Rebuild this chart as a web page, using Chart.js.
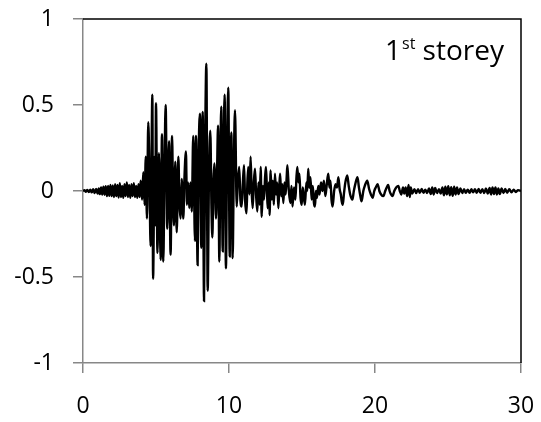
<!DOCTYPE html>
<html>
<head>
<meta charset="utf-8">
<script src="https://cdn.jsdelivr.net/npm/chart.js@4.4.1/dist/chart.umd.min.js"></script>
<style>
  html, body { margin: 0; padding: 0; background: #fff; }
  #wrap { width: 541px; height: 422px; }
</style>
</head>
<body>
<div id="wrap"><canvas id="chart" width="541" height="422"></canvas></div>
<script>
// time (s) and response, peak by peak
const times = [
  0.0, 0.1, 0.2, 0.3, 0.4, 0.5, 0.6, 0.7, 0.8, 0.9, 1.0, 1.08, 1.16, 1.24, 1.32, 1.4, 1.48, 1.56, 1.64, 1.72,
  1.8, 1.88, 1.96, 2.04, 2.12, 2.2, 2.28, 2.36, 2.44, 2.52, 2.6, 2.68, 2.76, 2.84, 2.92, 3.0, 3.08, 3.16, 3.24, 3.32,
  3.4, 3.48, 3.56, 3.64, 3.72, 3.8, 3.88, 3.95, 4.05, 4.13, 4.22, 4.3, 4.38, 4.47, 4.55, 4.63, 4.75, 4.8, 4.9, 4.95,
  5.0, 5.1, 5.2, 5.32, 5.41, 5.5, 5.58, 5.66, 5.77, 5.89, 6.0, 6.1, 6.17, 6.23, 6.32, 6.42, 6.53, 6.61, 6.69, 6.76,
  6.87, 6.95, 7.05, 7.12, 7.2, 7.28, 7.36, 7.45, 7.55, 7.67, 7.74, 7.85, 7.92, 8.01, 8.1, 8.2, 8.29, 8.37, 8.45, 8.54,
  8.63, 8.72, 8.8, 8.86, 8.93, 9.0, 9.11, 9.18, 9.25, 9.34, 9.4, 9.47, 9.57, 9.63, 9.7, 9.79, 9.87, 9.95, 10.05, 10.1,
  10.16, 10.25, 10.33, 10.41, 10.53, 10.6, 10.7, 10.78, 10.87, 10.95, 11.03, 11.1, 11.2, 11.26, 11.32, 11.4, 11.48, 11.55, 11.62, 11.7,
  11.78, 11.86, 11.94, 12.02, 12.1, 12.17, 12.24, 12.32, 12.4, 12.47, 12.53, 12.6, 12.65, 12.72, 12.78, 12.85, 12.93, 13.0, 13.07, 13.15,
  13.22, 13.3, 13.38, 13.45, 13.5, 13.58, 13.65, 13.72, 13.8, 13.88, 13.95, 14.0, 14.1, 14.2, 14.28, 14.35, 14.45, 14.55, 14.62, 14.68,
  14.75, 14.82, 14.9, 14.98, 15.05, 15.12, 15.2, 15.3, 15.36, 15.43, 15.5, 15.58, 15.66, 15.74, 15.82, 15.89, 15.95, 16.02, 16.12, 16.2,
  16.3, 16.4, 16.5, 16.6, 16.7, 16.8, 16.88, 16.95, 17.02, 17.1, 17.2, 17.3, 17.4, 17.49, 17.58, 17.66, 17.72, 17.79, 17.88, 17.97,
  18.1, 18.2, 18.3, 18.45, 18.55, 18.65, 18.8, 18.9, 19.0, 19.08, 19.2, 19.3, 19.47, 19.6, 19.72, 19.84, 19.95, 20.05, 20.18, 20.3,
  20.42, 20.57, 20.7, 20.8, 20.9, 21.0, 21.1, 21.2, 21.32, 21.45, 21.6, 21.7, 21.8, 21.92, 22.0, 22.1, 22.2, 22.3, 22.38, 22.45,
  22.55, 22.7, 22.82, 22.95, 23.07, 23.2, 23.32, 23.45, 23.57, 23.7, 23.82, 23.92, 24.02, 24.12, 24.25, 24.38, 24.5, 24.62, 24.72, 24.82,
  24.92, 25.02, 25.12, 25.22, 25.32, 25.42, 25.52, 25.62, 25.72, 25.85, 25.98, 26.1, 26.22, 26.35, 26.48, 26.6, 26.72, 26.85, 26.97, 27.1,
  27.22, 27.35, 27.48, 27.6, 27.72, 27.85, 27.95, 28.05, 28.15, 28.25, 28.35, 28.45, 28.55, 28.67, 28.8, 28.92, 29.05, 29.2, 29.35, 29.5,
  29.65, 29.8, 30.0
];
const response = [
  0, 0.004, -0.004, 0.006, -0.006, 0.008, -0.008, 0.01, -0.012, 0.012, -0.015, 0.015, -0.018, 0.02, -0.02, 0.025, -0.022, 0.028, -0.03, 0.03,
  -0.028, 0.035, -0.03, 0.032, -0.035, 0.04, -0.03, 0.035, -0.038, 0.045, -0.035, 0.03, -0.04, 0.04, -0.03, 0.05, -0.035, 0.035, -0.04, 0.04,
  -0.03, 0.045, -0.035, 0.03, -0.04, 0.04, -0.035, 0.06, -0.05, 0.11, -0.08, 0.2, -0.16, 0.40, 0.1, -0.32, 0.56, -0.51, 0.2, -0.2,
  0.51, -0.36, 0.22, -0.40, 0.33, -0.41, 0.1, 0.50, -0.22, 0.29, -0.37, 0.32, -0.05, -0.20, 0.17, -0.24, 0.20, -0.08, -0.16, 0.07,
  -0.16, 0.08, 0.23, -0.08, 0.05, -0.10, 0.05, -0.12, 0.32, -0.29, 0.32, -0.43, 0.2, 0.45, -0.33, 0.46, -0.64, 0.3, 0.74, -0.58,
  0.1, 0.35, -0.1, -0.27, 0.05, 0.16, -0.16, 0.1, 0.38, -0.41, 0.1, 0.49, -0.35, 0.2, 0.56, -0.45, 0.25, 0.60, -0.38, 0.1,
  0.34, -0.39, 0.15, 0.47, -0.09, 0.05, 0.14, -0.05, -0.09, 0.05, 0.15, -0.05, -0.13, 0.05, 0.14, -0.02, 0.20, 0.0, -0.10, 0.05,
  0.13, -0.03, -0.12, 0.05, -0.08, 0.14, -0.15, 0.03, -0.05, 0.08, 0.14, 0.0, -0.10, 0.05, -0.14, 0.12, -0.05, 0.06, -0.08, 0.10,
  -0.02, 0.05, -0.10, 0.03, 0.10, -0.03, 0.04, -0.07, 0.05, -0.02, 0.08, 0.15, 0.0, -0.07, 0.03, -0.09, 0.02, -0.05, 0.08, 0.14,
  0.05, 0.10, -0.04, -0.08, 0.02, -0.03, -0.08, 0.05, 0.0, 0.13, 0.02, 0.08, -0.05, 0.03, -0.07, -0.09, 0.0, -0.04, 0.03, -0.02,
  0.05, 0.0, 0.06, -0.03, 0.04, 0.10, 0.02, 0.06, -0.05, -0.09, 0.0, 0.04, 0.02, 0.08, 0.01, -0.02, -0.06, -0.08, -0.01, 0.05,
  0.09, 0.03, -0.02, -0.05, 0.0, 0.04, 0.08, 0.02, -0.03, -0.06, 0.0, 0.03, 0.06, 0.01, -0.02, -0.04, 0.0, 0.02, 0.04, 0.0,
  -0.02, -0.03, 0.0, 0.02, 0.035, 0.0, -0.02, -0.03, 0.0, 0.02, 0.03, 0.0, -0.02, 0.02, -0.015, 0.02, -0.03, 0.035, -0.035, 0.02,
  -0.015, 0.01, -0.012, 0.01, -0.01, 0.012, -0.01, 0.008, -0.012, 0.015, -0.018, 0.02, -0.02, 0.018, -0.012, 0.01, -0.015, 0.02, -0.025, 0.025,
  -0.02, 0.028, -0.025, 0.022, -0.028, 0.025, -0.02, 0.02, -0.018, 0.015, -0.012, 0.01, -0.01, 0.008, -0.01, 0.01, -0.008, 0.01, -0.01, 0.012,
  -0.01, 0.01, -0.012, 0.015, -0.015, 0.018, -0.02, 0.02, -0.018, 0.02, -0.02, 0.015, -0.018, 0.015, -0.012, 0.012, -0.01, 0.01, -0.008, 0.008,
  -0.006, 0.005, 0
];
const xTicks = [0, 10, 20, 30];
const yTicks = [-1, -0.5, 0, 0.5, 1];
const panelLabel = { main: '1', sup: 'st', rest: ' storey' };

const FONT = '"Open Sans", "Noto Sans", sans-serif';
const axisGrey = '#878787';

// black frame on top and right, text label in the corner
const framePlugin = {
  id: 'frame',
  afterDraw(chart) {
    const ctx = chart.ctx;
    const a = chart.chartArea;
    ctx.save();
    ctx.strokeStyle = '#000';
    ctx.lineWidth = 1.5;
    ctx.beginPath();
    ctx.moveTo(a.left, a.top);
    ctx.lineTo(a.right, a.top);
    ctx.lineTo(a.right, a.bottom);
    ctx.stroke();

    ctx.fillStyle = '#000';
    ctx.textBaseline = 'alphabetic';
    let x = 385, y = 60;
    ctx.font = '28px ' + FONT;
    ctx.fillText(panelLabel.main, x, y);
    x += ctx.measureText(panelLabel.main).width + 1;
    ctx.font = '16px ' + FONT;
    ctx.fillText(panelLabel.sup, x, y - 11);
    x += ctx.measureText(panelLabel.sup).width;
    ctx.font = '28px ' + FONT;
    ctx.fillText(panelLabel.rest, x, y);
    ctx.restore();
  }
};

const points = times.map((t, i) => ({ x: t, y: response[i] }));

new Chart(document.getElementById('chart'), {
  type: 'line',
  data: {
    datasets: [{
      data: points,
      borderColor: '#000',
      borderWidth: 2.4,
      pointRadius: 0,
      cubicInterpolationMode: 'monotone',
      fill: false
    }]
  },
  options: {
    responsive: false,
    animation: false,
    devicePixelRatio: 1,
    layout: { padding: { top: 19, right: 20, left: 0, bottom: 0 } },
    plugins: { legend: { display: false }, tooltip: { enabled: false } },
    scales: {
      x: {
        type: 'linear',
        min: 0, max: 30,
        afterBuildTicks: (axis) => { axis.ticks = xTicks.map(v => ({ value: v })); },
        // fixed size, and no extra room for the end labels
        afterFit: (axis) => { axis.height = 59; axis.paddingLeft = 0; axis.paddingRight = 0; },
        ticks: { color: '#000', font: { family: FONT, size: 23 }, padding: 20, maxRotation: 0 },
        grid: { drawOnChartArea: false, tickLength: 10, color: axisGrey, lineWidth: 1.5 },
        border: { color: axisGrey, width: 1.5 }
      },
      y: {
        min: -1, max: 1,
        afterBuildTicks: (axis) => { axis.ticks = yTicks.map(v => ({ value: v })); },
        afterFit: (axis) => { axis.width = 83; axis.paddingTop = 0; axis.paddingBottom = 0; },
        ticks: { color: '#000', font: { family: FONT, size: 23 }, padding: 19, callback: (v) => String(v) },
        grid: { drawOnChartArea: false, tickLength: 10, color: axisGrey, lineWidth: 1.5 },
        border: { color: axisGrey, width: 1.5 }
      }
    }
  },
  plugins: [framePlugin]
});
</script>
</body>
</html>
